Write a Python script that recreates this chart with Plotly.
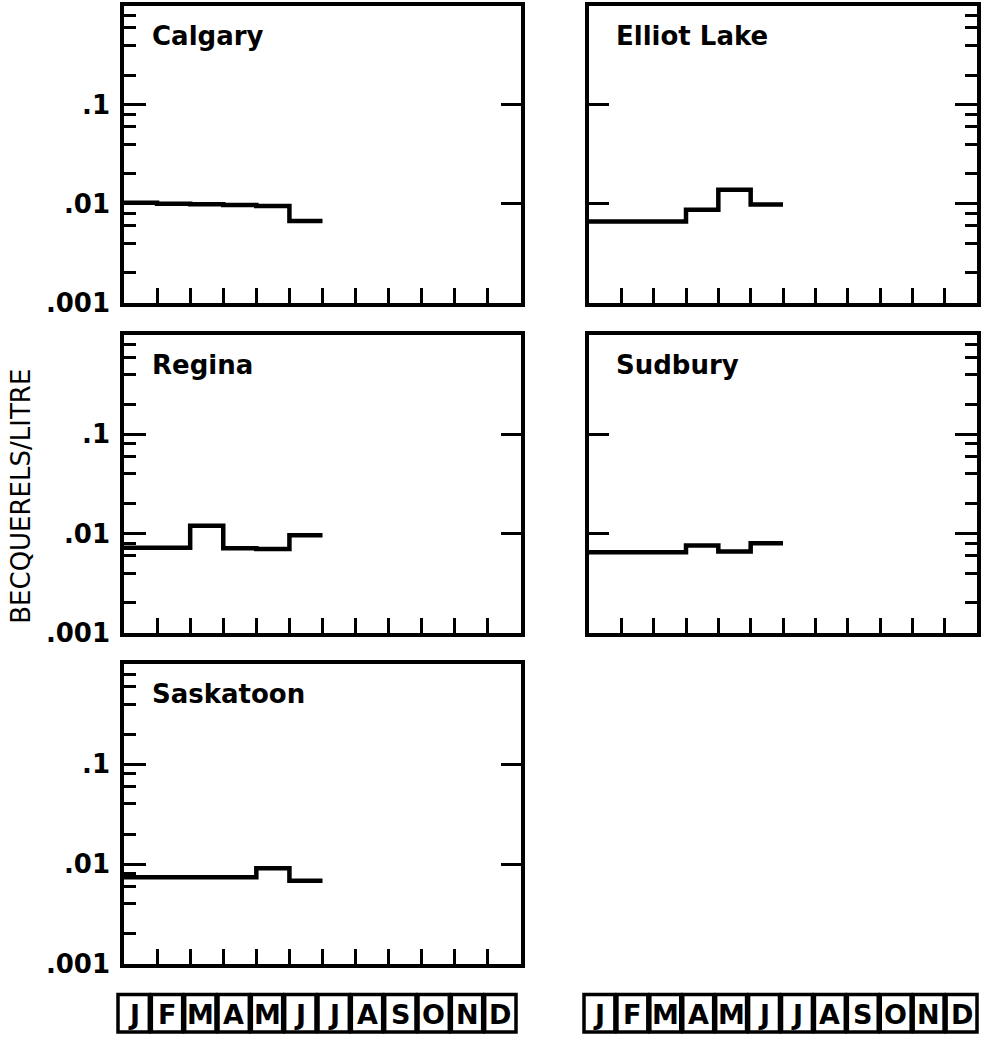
import plotly.graph_objects as go

# Monthly concentrations (Bq/L), January onward
months = ["J", "F", "M", "A", "M", "J", "J", "A", "S", "O", "N", "D"]
cities = ["Calgary", "Elliot Lake", "Regina", "Sudbury", "Saskatoon"]
calgary = [0.0102, 0.0100, 0.0099, 0.0097, 0.0095, 0.0067]
elliot_lake = [0.0066, 0.0066, 0.0066, 0.0087, 0.0138, 0.0098]
regina = [0.0072, 0.0072, 0.0120, 0.0071, 0.0070, 0.0096]
sudbury = [0.0065, 0.0065, 0.0065, 0.0076, 0.0066, 0.0080]
saskatoon = [0.0074, 0.0074, 0.0074, 0.0074, 0.0091, 0.0068]
series = [calgary, elliot_lake, regina, sudbury, saskatoon]

y_ticks = [0.001, 0.01, 0.1]
y_tick_text = [".001", ".01", ".1"]

W, H = 981, 1049


def px_x(p):
    return p / W


def px_y(p):
    return 1 - p / H


def ax(letter, k):
    return letter if k == 1 else f"{letter}{k}"


# panel frames in pixels: (left, right, top, bottom)
frames = [
    (124, 521, 6, 307),
    (589, 977, 6, 307),
    (124, 521, 340, 642),
    (589, 977, 340, 642),
    (124, 521, 674, 978),
]
left_column = [True, False, True, False, True]

minor_vals = [m * 10 ** e for e in (-3, -2, -1) for m in (2, 4, 6, 8)]

fig = go.Figure()
LINE = dict(color="black", width=4.5)

for i, (name, vals) in enumerate(zip(cities, series)):
    k = i + 1
    xs = list(range(len(vals) + 1))
    ys = vals + [vals[-1]]
    fig.add_trace(go.Scatter(
        x=xs, y=ys, mode="lines", line=LINE, line_shape="hv",
        xaxis=ax("x", k), yaxis=ax("y", k), showlegend=False, hoverinfo="skip"))
    # empty trace so the companion tick axis is drawn
    fig.add_trace(go.Scatter(
        x=[None], y=[None], mode="lines", xaxis=ax("x", k), yaxis=f"y{k + 5}",
        showlegend=False, hoverinfo="skip"))

axis_font = dict(family="DejaVu Sans", size=26, color="black", weight="bold")
layout = dict(
    width=W, height=H, margin=dict(l=0, r=0, t=0, b=0),
    paper_bgcolor="white", plot_bgcolor="white", showlegend=False,
)

for i, (l, r, t, b) in enumerate(frames):
    k = i + 1
    xa = dict(
        domain=[px_x(l), px_x(r)], range=[0, 12], anchor=ax("y", k),
        tickvals=list(range(1, 12)), ticks="inside", ticklen=15, tickwidth=3,
        tickcolor="black", showticklabels=False, showgrid=False, zeroline=False,
        showline=True, linecolor="black", linewidth=3.5, mirror=True, fixedrange=True,
    )
    ya = dict(
        domain=[px_y(b), px_y(t)], type="log", range=[-3, 0], anchor=ax("x", k),
        tickvals=y_ticks, ticktext=y_tick_text, ticks="inside", ticklen=22,
        tickwidth=3, tickcolor="black", showgrid=False, zeroline=False,
        showline=True, linecolor="black", linewidth=3.5, mirror=True,
        minor=dict(tickvals=minor_vals, ticks="inside", ticklen=12,
                   tickwidth=3, tickcolor="black", showgrid=False),
        fixedrange=True,
    )
    # companion axis carrying only the decade ticks on the opposite side
    yb = dict(
        domain=[px_y(b), px_y(t)], type="log", range=[-3, 0], anchor=ax("x", k),
        overlaying=ax("y", k), tickvals=[0.01, 0.1], ticks="inside", ticklen=20,
        tickwidth=3, tickcolor="black", showticklabels=False, showgrid=False,
        zeroline=False, showline=False, fixedrange=True,
    )
    if left_column[i]:
        ya.update(side="left", showticklabels=True, tickfont=axis_font,
                  ticklabelstandoff=5)
        yb.update(side="right")
    else:
        ya.update(side="right", showticklabels=False)
        yb.update(side="left")
    layout[f"xaxis{k}"] = xa
    layout[f"yaxis{k}"] = ya
    layout[f"yaxis{k + 5}"] = yb

fig.update_layout(**layout)

# city names inside each panel
for i, name in enumerate(cities):
    k = i + 1
    fig.add_annotation(
        text=name, xref=f"{ax('x', k)} domain", yref=f"{ax('y', k)} domain",
        x=0.065, y=0.9, xanchor="left", yanchor="middle", showarrow=False,
        font=dict(family="DejaVu Sans", size=26, color="black", weight="bold"))

# vertical unit label
fig.add_annotation(
    text="BECQUERELS/LITRE", xref="paper", yref="paper", x=px_x(21), y=px_y(504),
    textangle=-90, showarrow=False, xanchor="center", yanchor="middle",
    font=dict(family="DejaVu Sans", size=26, color="black"))

# month key rows beneath each column
rows = [(117, 517), (583, 978)]
top, bot = 1009, 1047
for (l, r) in rows:
    w = (r - l) / len(months)
    for j, m in enumerate(months):
        x0 = l + j * w
        fig.add_shape(type="rect", xref="paper", yref="paper",
                      x0=px_x(x0 + 1), x1=px_x(x0 + w - 1),
                      y0=px_y(bot), y1=px_y(top),
                      line=dict(color="black", width=3.5), fillcolor="white")
        fig.add_annotation(
            text=m, xref="paper", yref="paper", x=px_x(x0 + w / 2),
            y=px_y((top + bot) / 2 + 1), showarrow=False, xanchor="center",
            yanchor="middle",
            font=dict(family="DejaVu Sans", size=27, color="black", weight="bold"))

fig.write_html("out.html")
